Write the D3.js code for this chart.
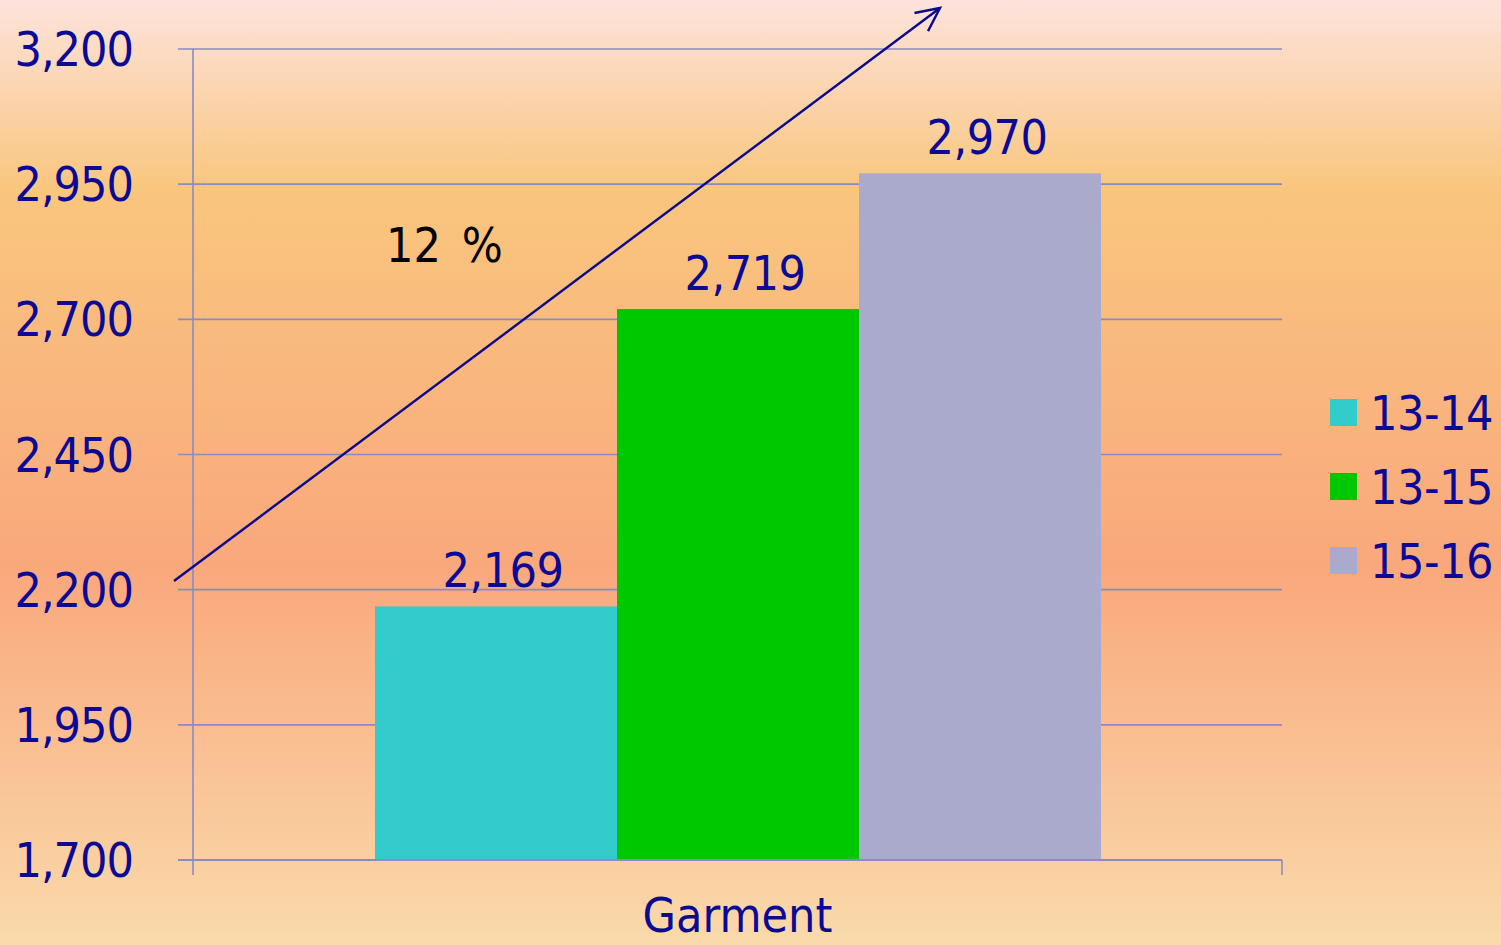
<!DOCTYPE html>
<html>
<head>
<meta charset="utf-8">
<script src="https://cdn.jsdelivr.net/npm/d3@7"></script>
<style>
  body { margin: 0; }
  svg { display: block; }
  text { font-family: "DejaVu Sans Condensed", "DejaVu Sans", sans-serif; }
</style>
</head>
<body>
<script>
var width = 1501, height = 945

// data
var category = "Garment"
var series = ["13-14", "13-15", "15-16"]
var values = [2169, 2719, 2970]
var colors = ["#33CCCC", "#00C800", "#AAAACC"]
var yTicks = [1700, 1950, 2200, 2450, 2700, 2950, 3200]
var growthLabel = "12 %"

var plotLeft = 193, plotRight = 1282, plotTop = 49, plotBottom = 860
var textColor = "#0A0A96"
var gridColor = "#8A8AC6"

var svg = d3.select("body").append("svg")
    .attr("width", width)
    .attr("height", height)

// background gradient
var defs = svg.append("defs")
var grad = defs.append("linearGradient")
    .attr("id", "bg")
    .attr("x1", 0).attr("y1", 0).attr("x2", 0).attr("y2", 1)
grad.selectAll("stop")
  .data([[0, "#FDE3DC"], [0.2, "#F9C67E"], [0.6, "#F9A87C"], [1, "#FADAAB"]])
  .enter().append("stop")
    .attr("offset", function(d) { return d[0] })
    .attr("stop-color", function(d) { return d[1] })

svg.append("rect")
    .attr("width", width)
    .attr("height", height)
    .attr("fill", "url(#bg)")

var y = d3.scaleLinear().domain([1700, 3200]).range([plotBottom, plotTop])
var x1 = d3.scaleBand().domain(series).range([375, 1101])

//gridlines
svg.append("g")
  .selectAll("line")
  .data(yTicks)
  .enter().append("line")
    .attr("x1", plotLeft - 15)
    .attr("x2", plotRight)
    .attr("y1", function(d) { return y(d) })
    .attr("y2", function(d) { return y(d) })
    .attr("stroke", gridColor)
    .attr("stroke-width", 1.6)

// y axis line and end ticks
svg.append("line")
    .attr("x1", plotLeft).attr("x2", plotLeft)
    .attr("y1", plotTop).attr("y2", plotBottom + 15)
    .attr("stroke", gridColor)
    .attr("stroke-width", 1.6)
svg.append("line")
    .attr("x1", plotRight).attr("x2", plotRight)
    .attr("y1", plotBottom).attr("y2", plotBottom + 15)
    .attr("stroke", gridColor)
    .attr("stroke-width", 1.6)

// y tick labels
svg.append("g")
  .selectAll("text")
  .data(yTicks)
  .enter().append("text")
    .attr("x", 133)
    .attr("y", function(d) { return y(d) + 17 })
    .attr("text-anchor", "end")
    .attr("font-size", 48)
    .attr("letter-spacing", -1)
    .attr("fill", textColor)
    .text(function(d) { return d3.format(",")(d) })

// bars
svg.append("g")
  .selectAll("rect")
  .data(values)
  .enter().append("rect")
    .attr("x", function(d, i) { return x1(series[i]) })
    .attr("width", x1.bandwidth())
    .attr("y", function(d) { return y(d) })
    .attr("height", function(d) { return plotBottom - y(d) })
    .attr("fill", function(d, i) { return colors[i] })

// x axis baseline on top of bars
svg.append("line")
    .attr("x1", plotLeft - 15).attr("x2", plotRight)
    .attr("y1", plotBottom).attr("y2", plotBottom)
    .attr("stroke", gridColor)
    .attr("stroke-width", 1.8)

// value labels
svg.append("g")
  .selectAll("text")
  .data(values)
  .enter().append("text")
    .attr("x", function(d, i) { return x1(series[i]) + x1.bandwidth() / 2 + 7 })
    .attr("y", function(d) { return y(d) - 19 })
    .attr("text-anchor", "middle")
    .attr("font-size", 48)
    .attr("letter-spacing", -0.5)
    .attr("fill", textColor)
    .text(function(d) { return d3.format(",")(d) })

// category label
svg.append("text")
    .attr("x", (plotLeft + plotRight) / 2)
    .attr("y", 932)
    .attr("text-anchor", "middle")
    .attr("font-size", 48)
    .attr("fill", textColor)
    .text(category)

// legend
var legend = svg.append("g")
  .selectAll("g")
  .data(series)
  .enter().append("g")
    .attr("transform", function(d, i) { return "translate(1330," + (399 + i * 74) + ")" })
legend.append("rect")
    .attr("width", 27).attr("height", 27)
    .attr("fill", function(d, i) { return colors[i] })
legend.append("text")
    .attr("x", 40)
    .attr("y", 31)
    .attr("font-size", 48)
    .attr("letter-spacing", -0.5)
    .attr("fill", textColor)
    .text(function(d) { return d })

// growth arrow
var arrow = svg.append("g").attr("stroke", "#0A0A8C").attr("stroke-width", 2.4).attr("fill", "none")
arrow.append("line")
    .attr("x1", 174).attr("y1", 581)
    .attr("x2", 940).attr("y2", 8)
var ang = Math.atan2(8 - 581, 940 - 174)
var hl = 26, spread = 0.45
arrow.append("path")
    .attr("d", "M" + (940 - hl * Math.cos(ang - spread)) + "," + (8 - hl * Math.sin(ang - spread)) +
      " L940,8 L" + (940 - hl * Math.cos(ang + spread)) + "," + (8 - hl * Math.sin(ang + spread)))

svg.append("text")
    .attr("x", 386)
    .attr("y", 262)
    .attr("font-size", 48)
    .attr("word-spacing", 7)
    .attr("fill", "#000")
    .text(growthLabel)
</script>
</body>
</html>
